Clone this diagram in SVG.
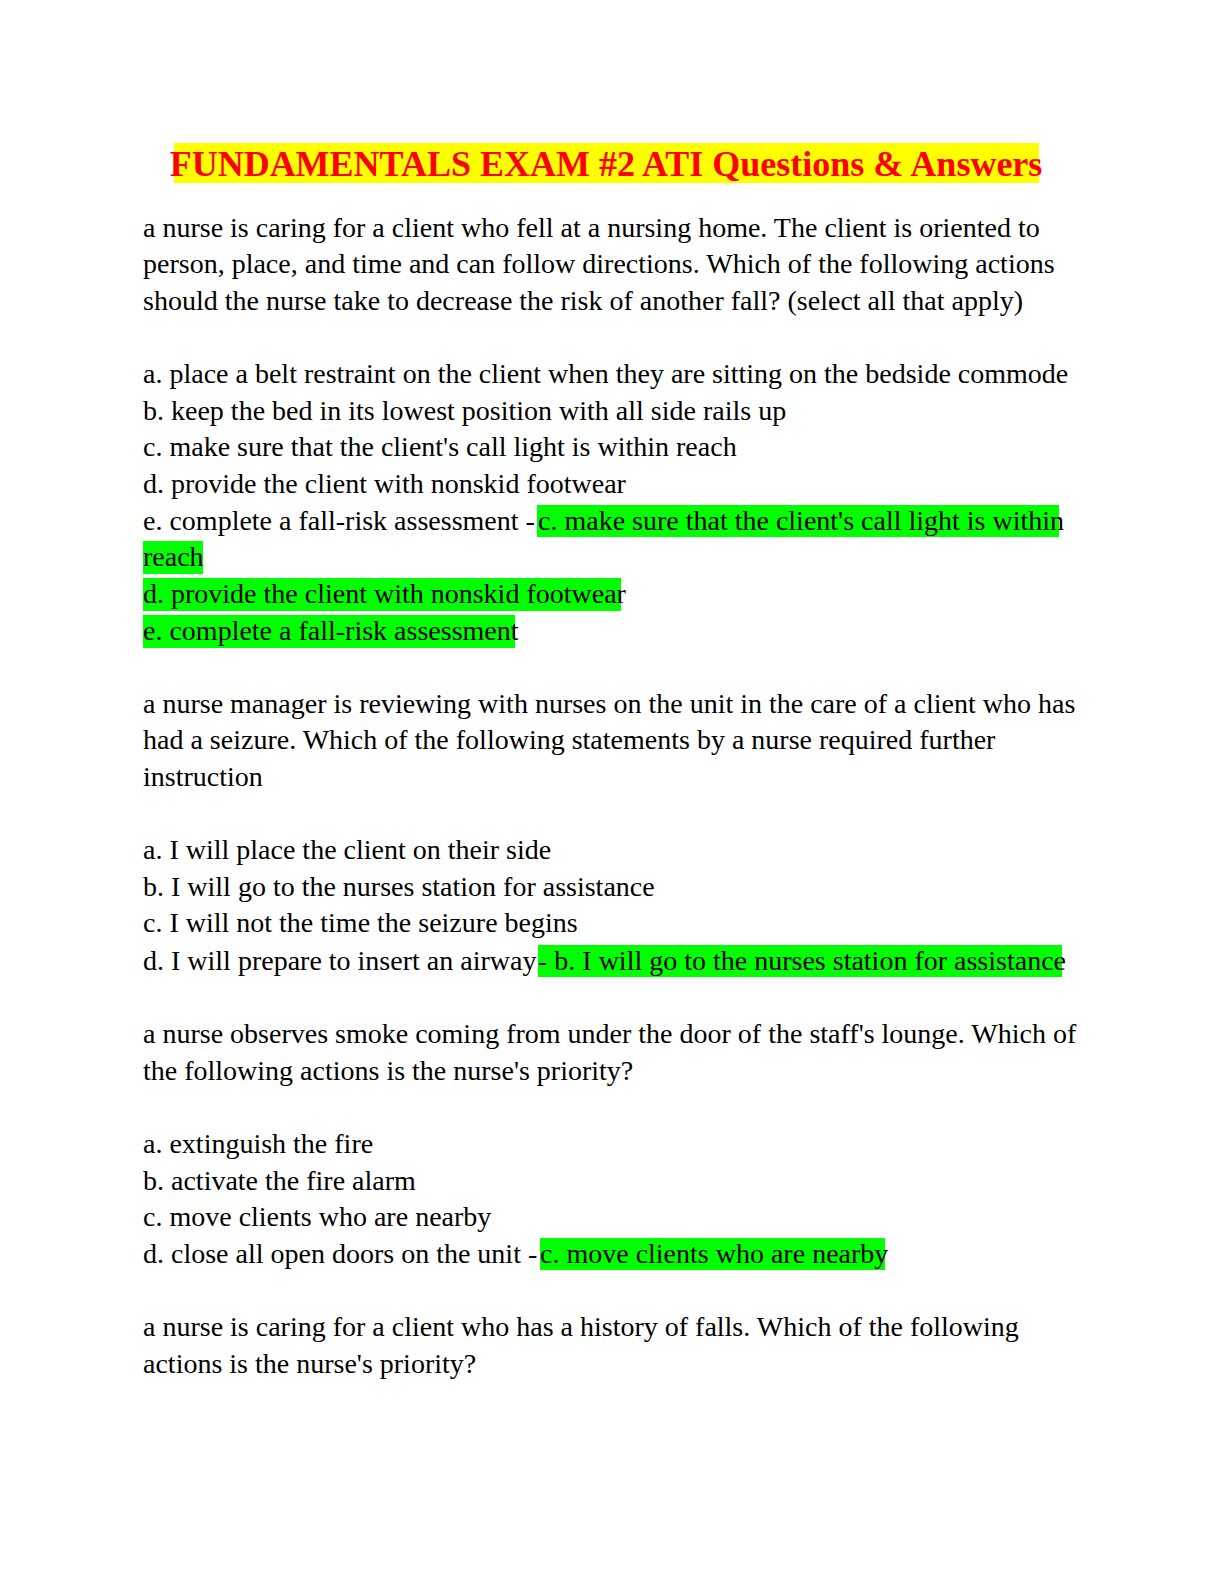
<svg xmlns="http://www.w3.org/2000/svg" width="1224" height="1584" viewBox="0 0 1224 1584">
<style>
text{font-family:"Liberation Serif","Times New Roman",serif;font-size:28px;fill:#000}
.t{font-weight:bold;font-size:36px;fill:#ff0000}
.h{fill:#00ff00}
</style>
<rect width="1224" height="1584" fill="#fff"/>
<rect x="174" y="143" width="865" height="40" fill="#ffff00"/>
<text class="t" x="606" y="176" text-anchor="middle">FUNDAMENTALS EXAM #2 ATI Questions &amp; Answers</text>
<g class="h">
<rect x="537" y="505" width="522" height="32"/>
<rect x="143" y="541" width="60" height="33"/>
<rect x="143" y="578" width="478" height="33"/>
<rect x="143" y="615" width="372" height="33"/>
<rect x="538" y="945" width="524" height="32"/>
<rect x="540" y="1238" width="345" height="32"/>
</g>
<text x="143" y="237">a nurse is caring for a client who fell at a nursing home. The client is oriented to</text>
<text x="143" y="273">person, place, and time and can follow directions. Which of the following actions</text>
<text x="143" y="310">should the nurse take to decrease the risk of another fall? (select all that apply)</text>
<text x="143" y="383">a. place a belt restraint on the client when they are sitting on the bedside commode</text>
<text x="143" y="420">b. keep the bed in its lowest position with all side rails up</text>
<text x="143" y="456">c. make sure that the client's call light is within reach</text>
<text x="143" y="493">d. provide the client with nonskid footwear</text>
<text x="143" y="530">e. complete a fall-risk assessment - <tspan x="538">c. make sure that the client's call light is within</tspan></text>
<text x="143" y="566">reach</text>
<text x="143" y="603">d. provide the client with nonskid footwear</text>
<text x="143" y="640">e. complete a fall-risk assessment</text>
<text x="143" y="713">a nurse manager is reviewing with nurses on the unit in the care of a client who has</text>
<text x="143" y="749">had a seizure. Which of the following statements by a nurse required further</text>
<text x="143" y="786">instruction</text>
<text x="143" y="859">a. I will place the client on their side</text>
<text x="143" y="896">b. I will go to the nurses station for assistance</text>
<text x="143" y="932">c. I will not the time the seizure begins</text>
<text x="143" y="970">d. I will prepare to insert an airway <tspan x="538">- b. I will go to the nurses station for assistance</tspan></text>
<text x="143" y="1043">a nurse observes smoke coming from under the door of the staff's lounge. Which of</text>
<text x="143" y="1080">the following actions is the nurse's priority?</text>
<text x="143" y="1153">a. extinguish the fire</text>
<text x="143" y="1190">b. activate the fire alarm</text>
<text x="143" y="1226">c. move clients who are nearby</text>
<text x="143" y="1263">d. close all open doors on the unit - <tspan x="540">c. move clients who are nearby</tspan></text>
<text x="143" y="1336">a nurse is caring for a client who has a history of falls. Which of the following</text>
<text x="143" y="1373">actions is the nurse's priority?</text>
</svg>
